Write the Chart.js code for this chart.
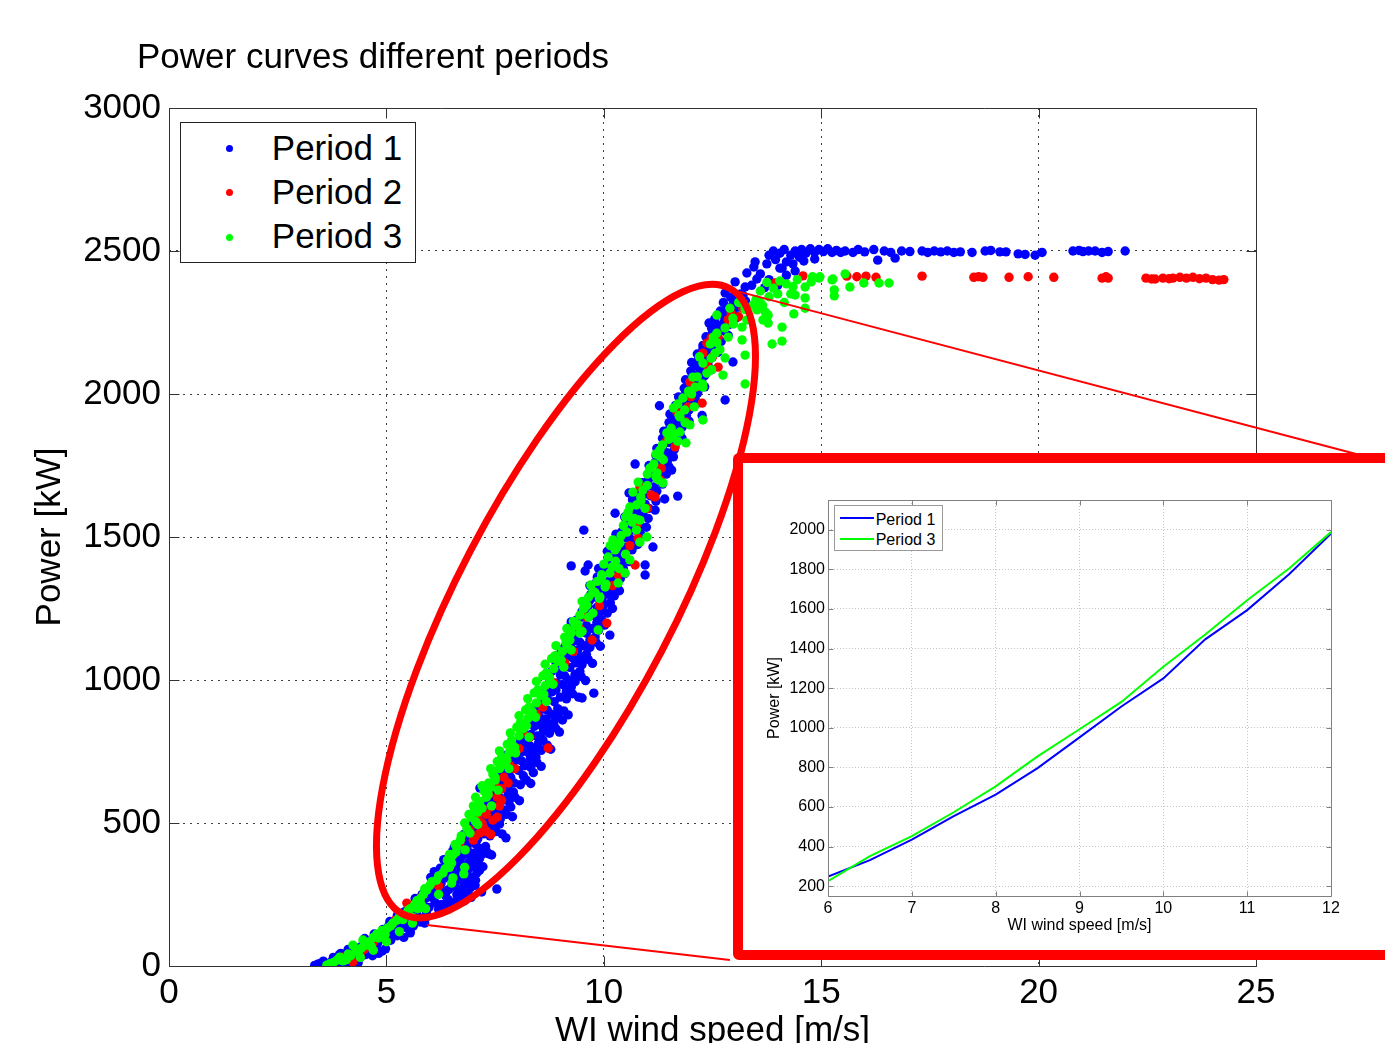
<!DOCTYPE html>
<html>
<head>
<meta charset="utf-8">
<script src="https://cdn.jsdelivr.net/npm/chart.js@4.4.1/dist/chart.umd.min.js"></script>
<style>
html,body{margin:0;padding:0;overflow:hidden;background:#fff;width:1385px;height:1043px;}
#wrap{position:relative;width:1385px;height:1043px;overflow:hidden;background:#fff;}
#main{position:absolute;left:0;top:0;width:1385px;height:1100px;}
.txt{position:absolute;white-space:nowrap;color:#000;font-family:'Liberation Sans',Arial,Helvetica,sans-serif;}
#title{left:137px;top:38.4px;font-size:35px;line-height:35px;}
#legend{position:absolute;left:180px;top:122px;width:236px;height:141px;border:1px solid #222;background:#fff;box-sizing:border-box;}
#legend .txt{font-size:35px;line-height:35px;left:90.8px;}
#legend .dot{position:absolute;width:7px;height:7px;border-radius:50%;}
#inset{position:absolute;left:733px;top:453px;width:720px;height:507px;border:10px solid #ff0000;border-radius:6px;background:#fff;box-sizing:border-box;}
#insetCanvas{position:absolute;left:0;top:0;width:642px;height:487px;}
#insetLegend{position:absolute;left:91px;top:42px;width:109px;height:46px;border:1px solid #9a9a9a;background:#fff;box-sizing:border-box;}
#insetLegend .txt{font-size:16px;line-height:16px;left:40.7px;}
#insetLegend .ln{position:absolute;left:5px;width:34px;height:2px;}
</style>
</head>
<body>
<div id="wrap">
  <canvas id="main" width="1385" height="1100"></canvas>
  <div id="title" class="txt"></div>
  <div id="legend"></div>
  <div id="inset">
    <canvas id="insetCanvas" width="642" height="487"></canvas>
    <div id="insetLegend"></div>
  </div>
</div>
<script>
// ---------------- DATA ----------------
const chartTitle = 'Power curves different periods';
const xAxisTitle = 'WI wind speed [m/s]';
const yAxisTitle = 'Power [kW]';
const seriesNames = ['Period 1', 'Period 2', 'Period 3'];
const xTickValues = [0, 5, 10, 15, 20, 25];
const yTickValues = [0, 500, 1000, 1500, 2000, 2500, 3000];

// Period 1 (blue) : [wind speed m/s, power kW]
const period1Points = [
[3.35,2],[3.48,9],[3.6,3],[3.72,13],[3.85,5],[3.98,16],[4.1,8],[4.22,18],[4.35,11],[3.55,17],[3.8,22],[4.05,26],
[3.78,30],[3.92,40],[4.05,34],[4.18,48],[4.3,38],[4.45,55],[4.6,47],[4.75,58],[4.9,52],[4.12,58],[4.4,30],
[4.42,68],[4.55,76],[4.68,88],[4.8,80],[4.95,97],[5.1,90],[5.25,106],[5.4,100],[5.55,116],[4.72,112],[5.02,120],
[4.92,128],[5.05,140],[5.2,134],[5.33,150],[5.47,144],[5.62,162],[5.77,154],[5.92,172],[5.25,176],[5.55,128],
[5.42,190],[5.56,200],[5.7,194],[5.84,212],[5.98,205],[6.12,222],[6.27,215],[6.42,232],[6.57,224],[6.72,236],[5.66,236],[6.05,240],
[5.82,250],[5.96,262],[6.1,255],[6.24,270],[6.38,262],[6.52,278],[6.66,268],[6.8,285],[6.94,275],[6.26,290],[6.5,298],[6.72,300],[6.06,286],[6.36,246],[6.62,250],[6.88,255],
[6.02,310],[6.16,320],[6.3,314],[6.44,330],[6.58,322],[6.72,338],[6.86,330],[7.0,346],[7.14,334],[6.36,350],[6.62,356],[6.88,360],[7.0,310],[7.22,347],
[6.32,372],[6.46,380],[6.6,392],[6.74,385],[6.88,400],[7.02,394],[7.16,410],[7.3,402],[7.42,388],[6.56,415],[6.86,420],[7.14,375],[7.36,392],
[7.19,259],[7.54,269],[7.05,300],
[6.68,430],[6.82,440],[6.96,450],[7.1,444],[7.24,462],[7.38,455],[7.52,470],[7.66,462],[7.0,478],[7.32,480],[7.38,466],[7.75,448],
[6.92,492],[7.06,500],[7.2,510],[7.34,504],[7.48,520],[7.62,514],[7.76,530],[7.9,522],[7.22,536],[7.56,540],
[7.12,550],[7.26,560],[7.4,570],[7.54,564],[7.68,580],[7.82,574],[7.96,590],[8.06,578],[7.46,598],[7.8,600],
[7.15,622],[7.38,610],[7.52,620],[7.66,630],[7.8,624],[7.94,640],[8.08,634],[8.22,650],[8.32,638],[7.7,655],
[7.62,670],[7.76,680],[7.9,690],[8.04,684],[8.18,700],[8.32,694],[8.46,712],[8.56,698],[7.96,718],[8.3,720],
[7.77,738],[7.86,730],[8.0,740],[8.14,750],[8.28,744],[8.42,760],[8.56,754],[8.7,772],[8.78,758],[8.2,778],[8.5,780],
[8.05,790],[8.19,800],[8.33,810],[8.47,804],[8.61,820],[8.75,814],[8.89,832],[8.98,818],[8.4,838],[8.74,840],
[8.24,850],[8.38,860],[8.52,870],[8.66,864],[8.8,880],[8.94,874],[9.08,892],[9.18,878],[8.6,898],[8.94,900],
[8.44,910],[8.58,920],[8.72,930],[8.86,924],[9.0,940],[9.14,934],[9.28,952],[9.42,940],[9.5,937],[9.77,954],[8.8,958],[9.14,960],
[8.64,970],[8.78,980],[8.92,990],[9.06,984],[9.2,1000],[9.34,994],[9.48,1012],[9.58,998],[9.0,1018],[9.34,1020],
[8.8,1030],[8.94,1040],[9.08,1050],[9.22,1044],[9.36,1060],[9.5,1054],[9.64,1072],[9.74,1058],[9.14,1078],[9.48,1080],
[8.98,1090],[9.12,1100],[9.26,1110],[9.4,1104],[9.54,1120],[9.68,1114],[9.82,1132],[9.92,1118],[9.34,1138],[9.68,1140],
[9.18,1150],[9.32,1160],[9.46,1170],[9.6,1164],[9.74,1180],[9.88,1174],[10.02,1192],[10.14,1157],[9.25,1203],[9.84,1200],
[9.38,1210],[9.52,1220],[9.66,1230],[9.8,1224],[9.94,1240],[10.08,1234],[10.2,1250],[9.64,1258],[10.0,1262],
[9.54,1270],[9.68,1280],[9.82,1290],[9.96,1284],[10.1,1300],[10.24,1294],[10.36,1312],[9.88,1318],[10.2,1320],
[9.68,1330],[9.82,1340],[9.96,1350],[10.1,1344],[10.24,1360],[10.38,1354],[10.48,1372],[10.95,1367],[10.08,1378],
[9.25,1399],[9.57,1381],[9.64,1402],[9.88,1390],[10.02,1400],[10.16,1410],[10.3,1404],[10.44,1420],[10.58,1414],[10.95,1402],[10.28,1438],
[10.08,1450],[10.22,1460],[10.36,1470],[10.5,1464],[10.64,1480],[10.78,1474],[11.13,1465],[10.48,1498],
[9.54,1524],[10.28,1510],[10.42,1520],[10.56,1530],[10.7,1524],[10.84,1540],[10.98,1534],[10.68,1558],
[10.26,1583],[10.48,1570],[10.62,1580],[10.76,1590],[10.9,1584],[11.04,1600],[11.18,1594],[10.88,1618],
[10.58,1654],[10.66,1630],[10.8,1640],[10.94,1650],[11.08,1644],[11.22,1660],[11.4,1633],[11.7,1643],[11.02,1678],
[10.88,1690],[11.02,1700],[11.16,1710],[11.3,1704],[11.44,1720],[11.56,1734],
[10.72,1755],[11.04,1750],[11.18,1760],[11.32,1770],[11.46,1764],[11.6,1780],[11.28,1798],
[11.22,1810],[11.36,1820],[11.5,1830],[11.64,1824],[11.8,1845],[11.46,1858],
[11.38,1870],[11.52,1880],[11.66,1890],[11.8,1884],[11.96,1905],[11.62,1918],
[11.28,1959],[11.52,1930],[11.68,1940],[11.82,1950],[11.96,1944],[12.12,1965],[12.26,1925],[11.78,1978],[12.79,1979],
[11.72,1990],[11.88,2000],[12.02,2010],[12.16,2004],[12.32,2025],[11.98,2038],
[11.88,2050],[12.04,2060],[12.18,2070],[12.32,2064],[12.48,2085],[12.14,2098],
[12.02,2110],[12.18,2120],[12.32,2130],[12.46,2124],[12.62,2145],[12.97,2112],[12.28,2158],
[12.28,2170],[12.42,2180],[12.56,2190],[12.7,2184],[12.86,2205],[12.5,2218],
[12.42,2248],[12.48,2230],[12.62,2240],[12.76,2250],[12.9,2244],[13.04,2265],[12.72,2278],
[12.68,2290],[12.82,2300],[12.96,2310],[13.1,2304],[13.26,2325],[12.92,2338],
[12.79,2353],[13.02,2392],[13.29,2423],[13.25,2374],[13.52,2402],[13.15,2350],[13.4,2380],[13.6,2420],[13.8,2400],[14.0,2380],[14.2,2415],[14.4,2430],[14.1,2440],[13.7,2372],
[13.48,2462],[13.45,2444],[13.75,2455],[13.8,2485],[13.9,2500],[13.95,2470],[14.05,2492],[14.15,2505],[14.2,2462],[14.3,2485],[14.4,2500],[14.5,2478],[14.55,2505],[14.65,2492],[14.75,2508],[14.85,2495],[14.95,2505],[15.05,2498],[15.15,2508],[15.25,2495],[15.35,2502],[15.45,2495],[14.6,2465],[14.85,2472],[14.05,2440],[14.35,2455],
[15.55,2500],[15.73,2495],[15.85,2505],[16.0,2497],[16.21,2505],[16.3,2468],[16.45,2500],[16.6,2495],[16.7,2475],[16.85,2500],[17.04,2498],[17.32,2500],[17.45,2495],[17.6,2500],[17.75,2497],[17.9,2500],[18.05,2495],[18.2,2497],[18.47,2495],[18.77,2500],[18.9,2502],[19.11,2497],[19.25,2497],[19.53,2490],[19.69,2488],[19.92,2485],[20.08,2495],[20.79,2500],[20.93,2502],[21.02,2498],[21.15,2500],[21.3,2500],[21.46,2495],[21.6,2498],[21.99,2500],
[3.42,6],[3.66,7],[3.9,9],[4.15,14],[4.28,24],[4.52,40],[4.68,36],[4.82,44],[4.98,60],[3.95,44],[4.25,62],
[4.5,96],[4.62,70],[4.85,92],[5.0,108],[5.15,118],[5.3,124],[5.48,132],[5.62,140],[5.75,170],[5.08,156],[5.4,168],[5.88,150],
[5.5,182],[5.78,226],[5.92,190],[6.2,198],[6.35,205],[6.5,212],[6.65,246],[6.8,228],[6.95,240],
[5.9,236],[6.0,268],[6.14,280],[6.3,258],[6.44,268],[6.58,290],[6.74,258],[6.9,295],[7.04,282],[6.2,302],[6.42,308],[6.64,312],[6.8,318],[6.94,305],[7.08,325],[6.1,330],[6.24,342],[6.5,340],[6.76,350],[6.98,365],[7.1,355],[6.4,365],[6.68,370],[6.94,380],[7.2,390],[6.52,400],[6.78,405],[7.06,425],[7.28,418],
[6.78,460],[7.0,462],[7.15,485],[7.44,485],[7.6,496],[7.1,528],[7.4,540],[7.7,546],[7.86,556],[7.3,580],[7.6,590],[7.92,608],
[7.5,645],[7.86,660],[8.15,665],[8.38,676],[7.7,700],[8.1,718],[8.44,730],[7.95,760],[8.3,770],[8.6,790],[8.12,815],[8.55,842],[8.85,852],[8.35,875],[8.7,895],[9.05,860],
[8.55,955],[8.9,965],[9.25,975],[8.75,1000],[9.1,1015],[9.45,1030],[8.9,1060],[9.3,1075],[9.6,1090],[9.1,1115],[9.45,1132],[9.8,1150],[9.3,1175],[9.6,1190],[9.95,1210],
[9.5,1240],[9.85,1255],[10.15,1270],[9.7,1300],[10.05,1315],[10.3,1330],[9.85,1360],[10.2,1375],[10.45,1390],[10.1,1425],[10.4,1445],[10.65,1455],[10.3,1485],[10.6,1495],[10.85,1510],
[10.5,1545],[10.8,1555],[11.02,1565],[10.65,1605],[10.95,1615],[11.2,1625],[10.85,1665],[11.15,1675],[11.35,1685],[11.05,1725],[11.3,1735],[11.5,1745],[11.2,1785],[11.45,1795],[11.62,1805],
[11.35,1845],[11.6,1855],[11.75,1862],[11.5,1900],[11.75,1910],[11.9,1925],[11.65,1960],[11.95,1970],[12.1,1985],[11.85,2020],[12.12,2030],[12.25,2045],[12.0,2080],[12.28,2090],[12.4,2100],
[12.15,2140],[12.4,2150],[12.55,2162],[12.35,2200],[12.6,2210],[12.75,2222],[12.55,2262],[12.85,2270],[12.98,2282],[12.75,2320],[13.05,2330],[13.2,2345]
];

// Period 2 (red)
const period2Points = [
[3.98,31],[4.23,14],[4.4,45],[4.69,80],[4.9,105],[5.47,220],[5.2,160],[4.1,28],[4.5,60],[5.8,240],[6.2,280],
[6.69,430],[6.92,476],[7.15,465],[7.0,440],[7.2,500],[7.3,530],[7.4,556],[7.25,480],[7.45,510],[7.1,520],[7.55,590],[7.35,600],[7.5,640],[7.65,620],[7.7,660],[7.85,700],[7.6,560],[7.4,460],
[7.05,455],[7.3,470],[7.55,520],[7.65,580],[7.8,640],[7.95,690],[8.3,800],
[8.72,762],[8.05,760],[8.15,820],[8.45,880],[8.6,905],[8.85,990],[9.1,1060],[9.3,1100],[9.73,1140],[10.07,1199],[9.45,1180],[9.9,1260],[9.6,1220],[10.2,1330],[10.33,1367],[10.72,1402],[10.5,1440],[10.6,1470],[10.79,1496],[10.76,1542],[11.0,1600],
[11.09,1647],[11.3,1700],[11.32,1741],[10.83,1675],[11.18,1640],[11.64,1815],[11.45,1839],[11.68,1937],[11.89,1902],[11.94,1955],[12.0,1990],[12.26,1968],[11.98,2042],[12.12,2024],[12.28,2143],[12.5,2130],[12.63,2094],[12.37,2101],[12.47,2196],[12.63,2199],[12.37,2178],[12.93,2283],[13.1,2270],[13.2,2300],[12.86,2260],[13.94,2388],[14.58,2413],
[15.59,2412],[15.82,2410],[16.03,2412],[16.26,2408],[17.32,2412],[18.51,2408],[18.62,2410],[18.72,2408],[19.32,2408],[19.76,2410],[20.35,2408],[21.46,2405],[21.55,2410],[21.6,2405],
[22.47,2405],[22.6,2402],[22.68,2402],[22.86,2405],[23.0,2403],[23.09,2405],[23.25,2408],[23.4,2405],[23.55,2408],[23.7,2403],[23.85,2405],[24.0,2400],[24.15,2398],[24.26,2400]
];

// Period 3 (green)
const period3Points = [
[3.63,3],[3.78,12],[3.93,31],[4.08,22],[4.12,42],[4.23,73],[4.3,55],[4.46,91],[4.42,62],[4.6,84],[4.7,100],[4.78,112],[4.9,124],[5.02,132],[5.15,150],[5.31,178],[5.38,162],[5.5,195],[5.6,171],[5.65,215],[5.72,200],[5.78,235],[5.85,250],[5.93,266],[5.8,215],[6.0,282],[6.15,300],[6.3,325],[6.53,308],[6.78,322],[6.45,345],[6.5,360],[6.53,388],[6.62,416],[6.81,406],[6.92,465],[6.7,440],[6.85,480],[6.4,370],[6.6,398],
[6.8,500],[6.95,520],[7.05,505],[7.1,538],[6.9,530],
[7.0,560],[7.15,575],[7.3,590],[7.2,552],[7.05,590],
[7.25,610],[7.4,625],[7.5,650],[7.35,640],[7.2,630],
[7.45,670],[7.6,690],[7.7,705],[7.55,715],[7.4,690],
[7.65,730],[7.82,745],[7.95,765],[7.78,775],[7.6,752],
[7.88,790],[8.05,805],[8.15,830],[8.0,835],[7.85,815],
[8.08,850],[8.25,865],[8.35,885],[8.2,895],[8.05,875],
[8.28,905],[8.45,920],[8.55,945],[8.4,955],[8.25,935],
[8.48,965],[8.65,980],[8.75,1005],[8.6,1015],[8.45,995],
[8.68,1025],[8.85,1040],[8.95,1065],[8.8,1075],[8.65,1055],
[8.88,1085],[9.05,1100],[9.15,1125],[9.22,1140],[8.9,1120],
[9.1,1150],[9.25,1165],[9.45,1164],[9.35,1190],[9.15,1180],
[9.3,1205],[9.45,1227],[9.61,1262],[9.75,1234],[9.55,1250],[9.87,1175],
[9.5,1275],[9.65,1290],[9.91,1290],[9.75,1310],
[9.7,1332],[9.85,1345],[10.03,1325],[10.14,1374],[9.95,1368],
[10.19,1395],[10.0,1405],[10.1,1430],[10.33,1339],
[10.26,1455],[10.21,1490],[10.37,1479],[10.3,1465],[10.6,1420],[10.49,1374],[10.15,1470],
[10.53,1517],[10.65,1552],[10.83,1559],[10.83,1482],[10.99,1500],[10.45,1540],
[10.56,1587],[10.6,1605],[10.75,1612],[10.5,1570],
[10.67,1657],[10.9,1664],[10.79,1692],[10.85,1640],[11.0,1680],[11.36,1689],
[11.06,1741],[11.22,1724],[11.0,1720],[11.15,1755],
[11.29,1804],[11.2,1790],[11.35,1822],[11.89,1829],[11.5,1842],
[11.45,1864],[11.75,1867],[11.98,1892],[11.55,1880],[11.75,1920],[12.28,1909],
[11.6,1951],[11.86,1944],[11.82,1986],[11.7,1965],
[12.1,2024],[12.28,2024],[12.05,2059],[12.37,2073],[12.74,2066],[11.95,2010],
[12.28,2108],[12.56,2143],[12.79,2126],[13.25,2136],[12.2,2130],
[12.6,2213],[12.52,2199],[12.86,2199],[12.79,2231],[13.18,2189],[13.18,2234],[12.45,2175],
[12.6,2276],[13.29,2259],[13.43,2311],[13.52,2294],[13.71,2287],[13.78,2276],[13.66,2259],[13.78,2248],[12.9,2300],[13.1,2320],
[13.87,2175],[14.1,2234],[13.25,2035],[14.1,2185],[14.37,2280],[14.63,2300],
[13.5,2330],[13.6,2360],[13.65,2310],[13.75,2390],[13.8,2340],[13.9,2370],[14.0,2350],[14.05,2395],[14.15,2320],[14.2,2385],[14.3,2350],[14.35,2375],[14.45,2400],[14.4,2346],[14.63,2336],[14.63,2374],[14.77,2392],[14.8,2410],[14.95,2405],[14.97,2410],[15.25,2399],[15.27,2402],[15.3,2364],[15.3,2343],[15.55,2420],[15.66,2374],[15.98,2388],[16.33,2388],[16.56,2388],
[3.7,8],[3.86,20],[4.0,18],[4.18,36],[4.35,48],[4.52,72],[4.65,70],[4.82,98],[4.97,110],[5.1,140],[5.24,160],[5.45,182],[5.55,200],[5.7,228],[5.88,270],[6.05,295],[6.2,315],[6.35,340],[6.45,390],[6.58,425],[6.72,455],
[4.4,30],[4.7,55],[5.0,85],[5.3,120],[5.6,150],[5.9,200],[6.2,250],[6.5,290],[6.8,345],
[7.1,495],[7.03,545],[7.42,560],[7.34,600],[7.57,615],[7.5,660],[7.82,690],[7.77,720],[7.97,745],[7.9,770],[8.28,800],[8.22,840],[8.43,870],[8.35,890],[8.68,925],[8.62,950],[8.83,985],[8.75,1010],[9.08,1045],[9.02,1070],[9.25,1105],[9.13,1130],[9.5,1170],[9.4,1195],[9.65,1220],[9.53,1250],[9.9,1285],[9.8,1305],[10.05,1335],[9.95,1360],[10.35,1390],[10.27,1415],[10.5,1440],[10.4,1505],[10.75,1525],[10.7,1565],[10.95,1600],[10.85,1625],[11.25,1700],[11.2,1710],[11.37,1770],[11.3,1780],[11.7,1835],[11.6,1855],[11.87,1900],[11.73,1925],[12.08,1955],[12.02,2000],[12.27,2035],[12.15,2060],[12.48,2085],[12.47,2125],[12.67,2155],[12.6,2180],[12.98,2245],[12.97,2265],[13.25,2295],[13.25,2305],[13.6,2320]
];

// Inset: binned power curves 6-12 m/s
const insetTitleX = 'WI wind speed [m/s]';
const insetTitleY = 'Power [kW]';
const insetSeriesNames = ['Period 1', 'Period 3'];
const insetSpeeds = [6, 6.5, 7, 7.5, 8, 8.5, 9, 9.5, 10, 10.5, 11, 11.5, 12];
const insetPeriod1 = [248, 331, 435, 553, 662, 796, 951, 1107, 1249, 1446, 1594, 1775, 1980];
const insetPeriod3 = [225, 351, 452, 573, 704, 855, 992, 1130, 1308, 1471, 1644, 1804, 1988];
const insetXTicks = [6, 7, 8, 9, 10, 11, 12];
const insetYTicks = [200, 400, 600, 800, 1000, 1200, 1400, 1600, 1800, 2000];

// Highlight annotation in data units (ellipse centre, connector end points)
const zoomEllipseCenter = [9.13, 1276];
const zoomConnectors = [[[13.13, 2357], [27.39, 1787]], [[5.93, 143], [12.9, 21]]];

// ---------------- STYLE ----------------
const FONT = "'Liberation Sans', Arial, Helvetica, sans-serif";
const seriesColors = ['#0000ff', '#ff0000', '#00ff00'];
const insetColors = ['#0000ff', '#00ff00'];
Chart.defaults.font.family = FONT;
Chart.defaults.color = '#000';

document.getElementById('title').textContent = chartTitle;

// main legend
const legend = document.getElementById('legend');
seriesNames.forEach((n, i) => {
  const d = document.createElement('span');
  d.className = 'dot';
  d.style.background = seriesColors[i];
  d.style.left = '44.5px';
  d.style.top = (21.5 + i * 44.5) + 'px';
  legend.appendChild(d);
  const t = document.createElement('div');
  t.className = 'txt';
  t.style.top = (7.4 + i * 44) + 'px';
  t.textContent = n;
  legend.appendChild(t);
});
// inset legend
const il = document.getElementById('insetLegend');
insetSeriesNames.forEach((n, i) => {
  const l = document.createElement('span');
  l.className = 'ln';
  l.style.background = insetColors[i];
  l.style.top = (11 + i * 20.5) + 'px';
  il.appendChild(l);
  const t = document.createElement('div');
  t.className = 'txt';
  t.style.top = (5.5 + i * 20) + 'px';
  t.textContent = n;
  il.appendChild(t);
});

const toXY = arr => arr.map(([x, y]) => ({x, y}));
const al = v => Math.round(v) + 0.5;

// box + inward ticks + annotation
const framePlugin = {
  id: 'frame',
  afterDatasetsDraw(chart, args, o) {
    const {ctx, chartArea: a, scales} = chart;
    const xs = scales.x, ys = scales.y;
    ctx.save();
    ctx.strokeStyle = o.boxColor;
    ctx.lineWidth = 1;
    ctx.setLineDash([]);
    const L = al(a.left), R = al(a.right), T = al(a.top), B = al(a.bottom);
    ctx.beginPath();
    ctx.rect(L, T, R - L, B - T);
    xs.ticks.forEach(t => {
      const p = al(xs.getPixelForValue(t.value));
      ctx.moveTo(p, B); ctx.lineTo(p, B - o.tickLen);
      ctx.moveTo(p, T); ctx.lineTo(p, T + o.tickLen);
    });
    ys.ticks.forEach(t => {
      const p = al(ys.getPixelForValue(t.value));
      ctx.moveTo(L, p); ctx.lineTo(L + o.tickLen, p);
      ctx.moveTo(R, p); ctx.lineTo(R - o.tickLen, p);
    });
    ctx.stroke();
    if (o.ellipse) {
      ctx.strokeStyle = o.markColor;
      ctx.lineWidth = o.connectorWidth;
      o.connectors.forEach(([p1, p2]) => {
        ctx.beginPath();
        ctx.moveTo(xs.getPixelForValue(p1[0]), ys.getPixelForValue(p1[1]));
        ctx.lineTo(xs.getPixelForValue(p2[0]), ys.getPixelForValue(p2[1]));
        ctx.stroke();
      });
      ctx.lineWidth = o.ellipseWidth;
      ctx.beginPath();
      ctx.ellipse(xs.getPixelForValue(o.ellipse.center[0]), ys.getPixelForValue(o.ellipse.center[1]),
                  o.ellipse.rx, o.ellipse.ry, -o.ellipse.angle * Math.PI / 180, 0, Math.PI * 2);
      ctx.stroke();
    }
    ctx.restore();
  }
};

// ---------------- MAIN CHART ----------------
const R = 4.7;
new Chart(document.getElementById('main'), {
  type: 'scatter',
  data: {
    datasets: [
      {label: seriesNames[0], data: toXY(period1Points), backgroundColor: seriesColors[0], pointRadius: R, pointBorderWidth: 0, order: 2},
      {label: seriesNames[1], data: toXY(period2Points), backgroundColor: seriesColors[1], pointRadius: R, pointBorderWidth: 0, order: 1},
      {label: seriesNames[2], data: toXY(period3Points), backgroundColor: seriesColors[2], pointRadius: R, pointBorderWidth: 0, order: 0}
    ]
  },
  options: {
    responsive: false, animation: false, devicePixelRatio: 1, events: [],
    layout: {padding: {top: 108, right: 129, bottom: 0, left: 0}},
    plugins: {
      legend: {display: false}, tooltip: {enabled: false},
      frame: {boxColor: '#333', tickLen: 10, markColor: '#ff0000', ellipseWidth: 7, connectorWidth: 2,
              ellipse: {center: zoomEllipseCenter, rx: 353, ry: 108, angle: 62.4}, connectors: zoomConnectors}
    },
    scales: {
      x: {
        type: 'linear', min: 0, max: 25,
        afterBuildTicks: s => { s.ticks = xTickValues.map(v => ({value: v})); },
        afterFit: s => { s.height = 134; },
        grid: {color: 'rgba(0,0,0,0.75)', lineWidth: 1, drawTicks: false, tickLength: 0},
        border: {display: false, dash: [2, 5]},
        ticks: {padding: 6, color: '#000', font: {size: 35}, autoSkip: false, maxRotation: 0, callback: v => String(v)},
        title: {display: true, text: xAxisTitle, color: '#000', font: {size: 35}, padding: {top: 0, bottom: 48}}
      },
      y: {
        type: 'linear', min: 0, max: 3000,
        afterBuildTicks: s => { s.ticks = yTickValues.map(v => ({value: v})); },
        afterFit: s => { s.width = 169; },
        grid: {color: 'rgba(0,0,0,0.75)', lineWidth: 1, drawTicks: false, tickLength: 0},
        border: {display: false, dash: [2, 5]},
        ticks: {padding: 8, color: '#000', font: {size: 35}, autoSkip: false, callback: v => String(v)},
        title: {display: true, text: yAxisTitle, color: '#000', font: {size: 35}, padding: {top: 29, bottom: 0}}
      }
    }
  },
  plugins: [framePlugin]
});

// ---------------- INSET CHART ----------------
new Chart(document.getElementById('insetCanvas'), {
  type: 'scatter',
  data: {
    datasets: [
      {label: insetSeriesNames[0], data: insetSpeeds.map((x, i) => ({x, y: insetPeriod1[i]})), showLine: true, borderColor: insetColors[0], borderWidth: 2, pointRadius: 0, tension: 0, order: 1},
      {label: insetSeriesNames[1], data: insetSpeeds.map((x, i) => ({x, y: insetPeriod3[i]})), showLine: true, borderColor: insetColors[1], borderWidth: 2, pointRadius: 0, tension: 0, order: 0}
    ]
  },
  options: {
    responsive: false, animation: false, devicePixelRatio: 1, events: [],
    layout: {padding: {top: 37, right: 54, bottom: 0, left: 0}},
    plugins: {legend: {display: false}, tooltip: {enabled: false}, frame: {boxColor: '#808080', tickLen: 5}},
    scales: {
      x: {
        type: 'linear', min: 6, max: 12,
        afterBuildTicks: s => { s.ticks = insetXTicks.map(v => ({value: v})); },
        afterFit: s => { s.height = 54; },
        grid: {color: '#c4c4c4', lineWidth: 1, drawTicks: false, tickLength: 0},
        border: {display: false, dash: [1, 2]},
        ticks: {padding: 3, color: '#000', font: {size: 16}, autoSkip: false, maxRotation: 0, callback: v => String(v)},
        title: {display: true, text: insetTitleX, color: '#000', font: {size: 16}, padding: {top: 0, bottom: 14.4}}
      },
      y: {
        type: 'linear', min: 150, max: 2150,
        afterBuildTicks: s => { s.ticks = insetYTicks.map(v => ({value: v})); },
        afterFit: s => { s.width = 85; },
        grid: {color: '#c4c4c4', lineWidth: 1, drawTicks: false, tickLength: 0},
        border: {display: false, dash: [1, 2]},
        ticks: {padding: 3, color: '#000', font: {size: 16}, autoSkip: false, callback: v => String(v)},
        title: {display: true, text: insetTitleY, color: '#000', font: {size: 16}, padding: {top: 22.4, bottom: 0}}
      }
    }
  },
  plugins: [framePlugin]
});
</script>
</body>
</html>
